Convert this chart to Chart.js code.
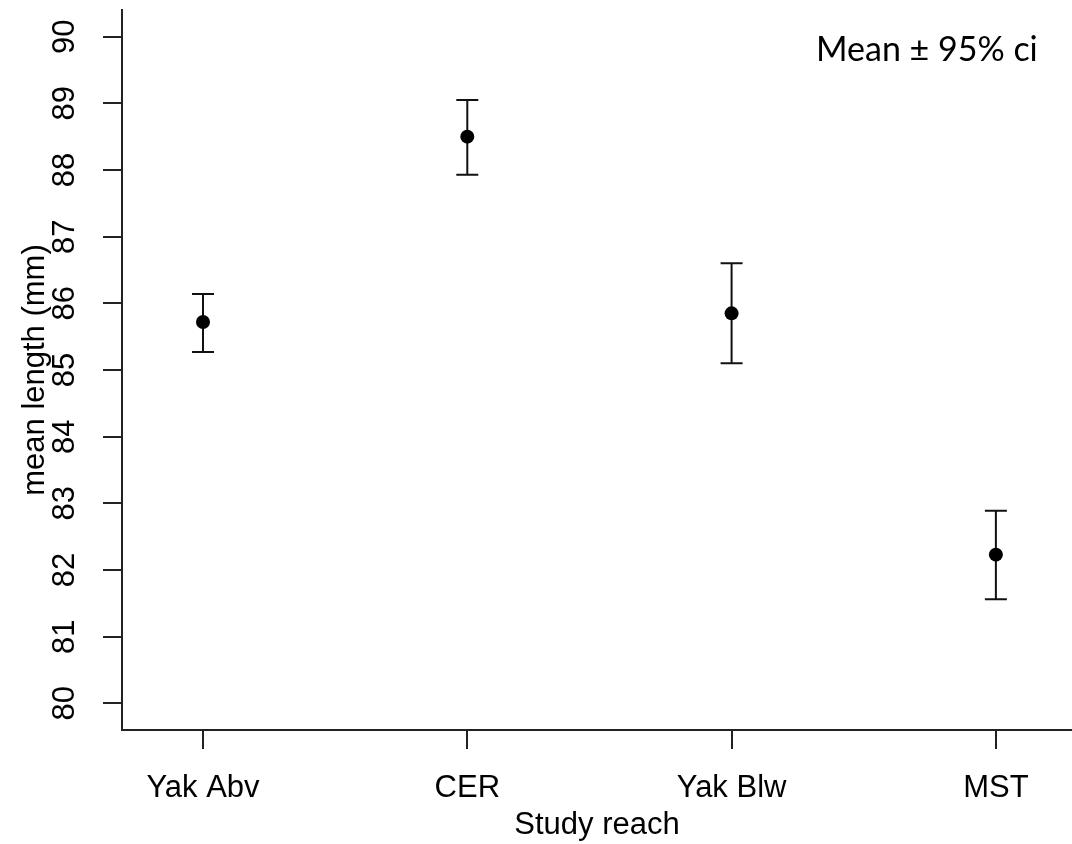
<!DOCTYPE html>
<html>
<head>
<meta charset="utf-8">
<script src="https://cdn.jsdelivr.net/npm/chart.js@4"></script>
<style>
  body { margin: 0; background: #fff; }
  #wrap { width: 1072px; height: 844px; position: relative; }
</style>
</head>
<body>
<div id="wrap"><canvas id="myChartLength"></canvas></div>
<script>
const categories = ['Yak Abv', 'CER', 'Yak Blw', 'MST'];
const means = [85.72, 88.50, 85.85, 82.23];
const ciLower = [85.27, 87.93, 85.10, 81.56];
const ciUpper = [86.14, 89.05, 86.60, 82.89];
const yTicks = [80, 81, 82, 83, 84, 85, 86, 87, 88, 89, 90];
const xTicks = [1, 2, 3, 4];

const axisColor = '#222';
const textFont = { family: 'Liberation Sans, Arial, sans-serif', size: 31 };

// error bars drawn under the points
const errorBars = {
    id: 'errorBars',
    beforeDatasetsDraw(chart) {
        const ctx = chart.ctx;
        const xs = chart.scales.x;
        const ys = chart.scales.y;
        ctx.save();
        ctx.strokeStyle = '#111';
        ctx.lineWidth = 2;
        means.forEach((m, i) => {
            const x = xs.getPixelForValue(xTicks[i]);
            const top = ys.getPixelForValue(ciUpper[i]);
            const bot = ys.getPixelForValue(ciLower[i]);
            ctx.beginPath();
            ctx.moveTo(x, top); ctx.lineTo(x, bot);
            ctx.moveTo(x - 11, top); ctx.lineTo(x + 11, top);
            ctx.moveTo(x - 11, bot); ctx.lineTo(x + 11, bot);
            ctx.stroke();
        });
        ctx.restore();
    }
};

const note = {
    id: 'note',
    afterDraw(chart) {
        const ctx = chart.ctx;
        ctx.save();
        ctx.fillStyle = '#000';
        ctx.font = '34px Lato, "Open Sans", sans-serif';
        ctx.textAlign = 'left';
        ctx.textBaseline = 'alphabetic';
        ctx.fillText('Mean \u00b1 95% ci', 816, 61);
        ctx.restore();
    }
};

// keep the plot box where the original has it
function noLabelPadding(scale) {
    scale.paddingTop = 0;
    scale.paddingBottom = 0;
    scale.paddingLeft = 0;
    scale.paddingRight = 0;
}

const ctxLength = document.getElementById('myChartLength');

new Chart(ctxLength, {
    type: 'scatter',
    data: {
        datasets: [{
            label: 'mean length',
            data: means.map((m, i) => ({ x: xTicks[i], y: m })),
            backgroundColor: '#000',
            borderWidth: 0,
            pointRadius: 7,
            showLine: false
        }]
    },
    plugins: [errorBars, note],
    options: {
        responsive: true,
        maintainAspectRatio: false,
        animation: false,
        layout: { autoPadding: false, padding: { top: 10, right: 0, left: 0, bottom: 0 } },
        scales: {
            x: {
                type: 'linear',
                min: 0.6935,
                max: 4.288,
                afterBuildTicks: (scale) => { scale.ticks = xTicks.map(v => ({ value: v })); },
                afterFit: (scale) => { scale.height = 114; noLabelPadding(scale); },
                ticks: {
                    color: '#000',
                    font: textFont,
                    padding: 21,
                    maxRotation: 0,
                    autoSkip: false,
                    callback: (v) => categories[v - 1]
                },
                grid: {
                    drawOnChartArea: false,
                    drawTicks: true,
                    tickLength: 19,
                    color: axisColor,
                    lineWidth: 2
                },
                border: { display: true, color: axisColor, width: 2 },
                title: {
                    display: true,
                    text: 'Study reach',
                    color: '#000',
                    font: textFont,
                    padding: { top: 0, bottom: 0 }
                }
            },
            y: {
                min: 79.6,
                max: 90.4,
                afterBuildTicks: (scale) => { scale.ticks = yTicks.map(v => ({ value: v })); },
                afterFit: (scale) => { scale.width = 122; noLabelPadding(scale); },
                ticks: {
                    color: '#000',
                    font: textFont,
                    padding: 20,
                    minRotation: 90,
                    maxRotation: 90,
                    crossAlign: 'center'
                },
                grid: {
                    drawOnChartArea: false,
                    drawTicks: true,
                    tickLength: 19,
                    color: axisColor,
                    lineWidth: 2
                },
                border: { display: true, color: axisColor, width: 2 },
                title: {
                    display: true,
                    text: 'mean length (mm)',
                    color: '#000',
                    font: textFont,
                    padding: { top: 17, bottom: 0 }
                }
            }
        },
        plugins: {
            legend: { display: false },
            tooltip: { enabled: false }
        }
    }
});
</script>
</body>
</html>
